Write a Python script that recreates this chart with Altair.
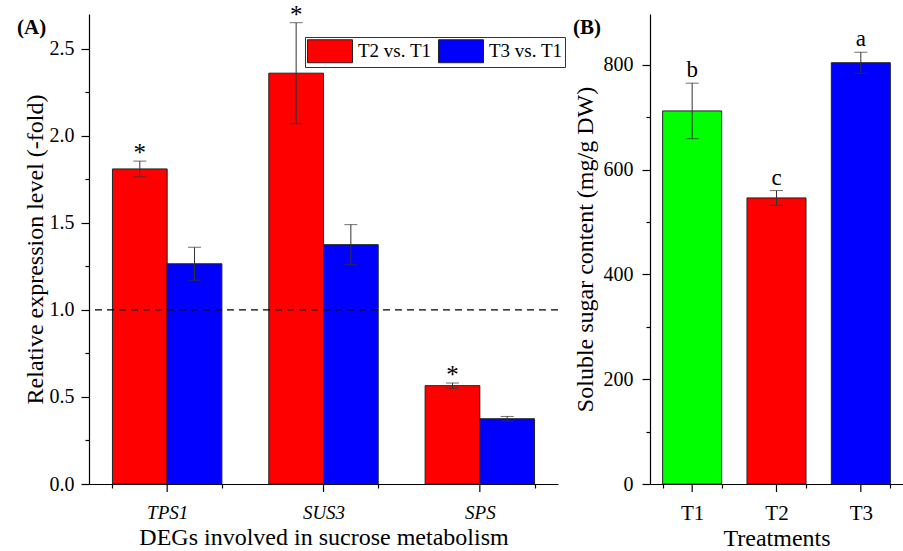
import altair as alt
import pandas as pd

FONT = "Liberation Serif"

# ---- Panel A data ----
genes = ["TPS1", "SUS3", "SPS"]
groups = ["T2 vs. T1", "T3 vs. T1"]
t2_vals = [1.81, 2.36, 0.565]
t2_err = [0.045, 0.29, 0.015]
t3_vals = [1.265, 1.375, 0.375]
t3_err = [0.095, 0.115, 0.013]
t2_sig = ["*", "*", "*"]
ref_level = [1.0]

# ---- Panel B data ----
treatments = ["T1", "T2", "T3"]
sugar = [712, 546, 804]
sugar_err = [53, 14, 20]
letters = ["b", "c", "a"]

panel_labels = ["(A)", "(B)"]

rows = []
for g, v, e, s in zip(genes, t2_vals, t2_err, t2_sig):
    rows.append(dict(gene=g, group=groups[0], value=v, lo=v - e, hi=v + e, sig=s))
for g, v, e in zip(genes, t3_vals, t3_err):
    rows.append(dict(gene=g, group=groups[1], value=v, lo=v - e, hi=v + e, sig=""))
dfA = pd.DataFrame(rows)
dfA_cat = pd.DataFrame({"gene": genes})

dfB = pd.DataFrame(dict(treat=treatments, value=sugar,
                        lo=[v - e for v, e in zip(sugar, sugar_err)],
                        hi=[v + e for v, e in zip(sugar, sugar_err)],
                        letter=letters))

H = 470

scaleXA = alt.Scale(paddingInner=0.30, paddingOuter=0.15)
# axis ticks at band extents (minor ticks); major centre ticks drawn as rules below
xA = alt.X("gene:N", sort=genes, scale=scaleXA,
           axis=alt.Axis(title="DEGs involved in sucrose metabolism", labelAngle=0,
                         labelFontStyle="italic", labelFontSize=19, titleFontSize=24,
                         tickBand="extent", tickSize=4, labelPadding=15, titlePadding=3))
xoffA = alt.XOffset("group:N", sort=groups)
yA_vals = [i * 0.25 for i in range(11)]
yA = alt.Y("value:Q", scale=alt.Scale(domain=[0, 2.7], nice=False),
           axis=alt.Axis(title="Relative expression level (-fold)", values=yA_vals,
                         labelExpr="datum.value % 0.5 == 0 ? format(datum.value, '.1f') : ''",
                         tickSize={"condition": {"test": "datum.value % 0.5 != 0", "value": 4}, "value": 8},
                         labelFontSize=20, titleFontSize=24,
                         labelPadding=7, titlePadding=2, labelOverlap=False))

baseA = alt.Chart(dfA)
barsA = baseA.mark_bar(stroke="#222", strokeWidth=1).encode(
    x=xA, xOffset=xoffA, y=yA,
    color=alt.Color("group:N", scale=alt.Scale(domain=groups, range=["#ff0000", "#0000ff"]),
                    legend=alt.Legend(title=None, orient="none", legendX=216, legendY=23,
                                      direction="horizontal",
                                      symbolType="M-1.957,-1H1.957V1H-1.957Z", symbolSize=529,
                                      symbolOffset=11, labelOffset=16,
                                      symbolStrokeColor="#222", symbolStrokeWidth=1,
                                      symbolOpacity=1,
                                      labelFont=FONT, labelFontSize=19, labelColor="black",
                                      strokeColor="#333", padding=2, columnPadding=4)))
majorTickA = alt.Chart(dfA_cat).mark_rule(color="black", strokeWidth=1.2).encode(
    x=alt.X("gene:N", sort=genes, scale=scaleXA), y=alt.value(H), y2=alt.value(H + 8))
dashA = alt.Chart(pd.DataFrame({"ref": ref_level})).mark_rule(
    color="black", strokeDash=[7, 5], strokeWidth=1.3).encode(y="ref:Q")
stemA = baseA.mark_rule(color="#333", strokeWidth=1).encode(
    x=xA, xOffset=xoffA, y="lo:Q", y2="hi:Q")
capLoA = baseA.mark_tick(color="#333", size=13, thickness=1).encode(x=xA, xOffset=xoffA, y="lo:Q")
capHiA = baseA.mark_tick(color="#333", size=13, thickness=1).encode(x=xA, xOffset=xoffA, y="hi:Q")
sigA = baseA.transform_filter(alt.datum.sig != "").mark_text(
    dy=0, baseline="alphabetic", font=FONT, fontSize=25, color="black").encode(
    x=xA, xOffset=xoffA, y="hi:Q", text="sig:N")
labA = alt.Chart(pd.DataFrame({"lab": [panel_labels[0]]})).mark_text(
    align="left", baseline="middle", font=FONT, fontSize=21, fontWeight="bold", color="black").encode(
    x=alt.value(-72), y=alt.value(14), text="lab:N")

panelA = alt.layer(barsA, majorTickA, dashA, stemA, capLoA, capHiA, sigA, labA).properties(
    width=469, height=H)

# ---- Panel B ----
scaleXB = alt.Scale(paddingInner=0.3, paddingOuter=0.15)
xB = alt.X("treat:N", sort=treatments, scale=scaleXB,
           axis=alt.Axis(title="Treatments", labelAngle=0, tickBand="extent", tickSize=4,
                         labelPadding=14, labelFontSize=21, titleFontSize=24, titlePadding=3))
yB_vals = list(range(0, 801, 100))
yB = alt.Y("value:Q", scale=alt.Scale(domain=[0, 897], nice=False),
           axis=alt.Axis(title="Soluble sugar content (mg/g DW)", values=yB_vals,
                         labelExpr="datum.value % 200 == 0 ? datum.value : ''",
                         tickSize={"condition": {"test": "datum.value % 200 != 0", "value": 4}, "value": 8},
                         labelFontSize=20, titleFontSize=24,
                         labelPadding=9, titlePadding=6, labelOverlap=False))
baseB = alt.Chart(dfB)
barsB = baseB.mark_bar(stroke="#222", strokeWidth=1).encode(
    x=xB, y=yB,
    color=alt.Color("treat:N", scale=alt.Scale(domain=treatments,
                                               range=["#00ff00", "#ff0000", "#0000ff"]),
                    legend=None))
majorTickB = baseB.mark_rule(color="black", strokeWidth=1.2).encode(
    x=xB, y=alt.value(H), y2=alt.value(H + 8))
stemB = baseB.mark_rule(color="#333", strokeWidth=1).encode(x=xB, y="lo:Q", y2="hi:Q")
capLoB = baseB.mark_tick(color="#333", size=13, thickness=1).encode(x=xB, y="lo:Q")
capHiB = baseB.mark_tick(color="#333", size=13, thickness=1).encode(x=xB, y="hi:Q")
letB = baseB.mark_text(dy=-6, baseline="alphabetic", font=FONT, fontSize=23, color="black").encode(
    x=xB, y="hi:Q", text="letter:N")
labB = alt.Chart(pd.DataFrame({"lab": [panel_labels[1]]})).mark_text(
    align="left", baseline="middle", font=FONT, fontSize=21, fontWeight="bold", color="black").encode(
    x=alt.value(-77), y=alt.value(14), text="lab:N")

panelB = alt.layer(barsB, majorTickB, stemB, capLoB, capHiB, letB, labB).properties(
    width=253, height=H)

chart = alt.hconcat(panelA, panelB, spacing=92, bounds="flush").resolve_scale(
    color="independent", y="independent", x="independent"
).configure_view(stroke=None).configure_axis(
    labelFont=FONT, titleFont=FONT, labelColor="black", titleColor="black",
    domainColor="black", tickColor="black", titleFontWeight="normal",
    grid=False, domainWidth=1.2, tickWidth=1.2
).configure_text(font=FONT).properties(
    padding={"left": 17, "top": 2, "right": 0, "bottom": 0},
    background="white")

chart.save("out.html", embed_options={"renderer": "svg", "actions": False})
